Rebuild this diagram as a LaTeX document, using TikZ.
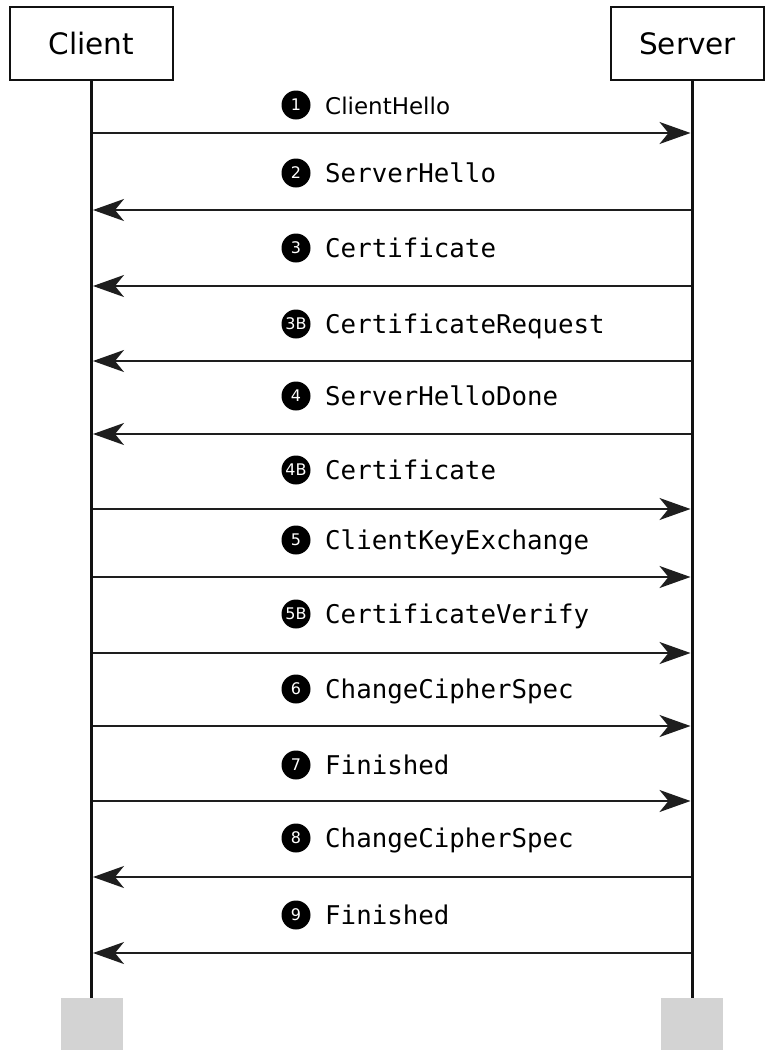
\documentclass[tikz,border=0pt]{standalone}
\usepackage{fontspec}
\setmainfont{DejaVu Sans}
\setsansfont{DejaVu Sans}
\setmonofont{DejaVu Sans Mono}
\usetikzlibrary{arrows.meta,positioning,calc}
\definecolor{ink}{HTML}{111111}
\definecolor{wire}{HTML}{1E1E1E}
\definecolor{stubgray}{HTML}{D3D3D3}
\tikzset{
  party/.style={draw=ink,line width=1.5pt,fill=white,minimum height=73pt,
    inner sep=0pt,font=\fontsize{29.5}{32}\selectfont},
  lifeline/.style={line width=3pt,draw=ink},
  msg/.style={line width=2pt,draw=wire,shorten >=1.5pt,shorten <=1.5pt},
  tosrv/.style={-{Stealth[length=31pt,width=22pt,inset=9pt]}},
  tocli/.style={{Stealth[length=31pt,width=22pt,inset=9pt]}-},
  stepnum/.style={circle,fill=black,text=white,inner sep=0pt,minimum size=29pt,
    font=\fontsize{16}{16}\selectfont},
  msgname/.style={anchor=base west,inner sep=0pt,
    font=\ttfamily\fontsize{25.8}{28}\selectfont},
  stub/.style={fill=stubgray,draw=none,minimum width=62pt,minimum height=52pt}
}
\begin{document}
\begin{tikzpicture}[x=1pt,y=-1pt]
  \useasboundingbox (0,0) rectangle (765,1053);
  \node[party,minimum width=163pt] (client) at (91.5,43.5) {Client};
  \node[party,minimum width=153pt] (server) at (687.5,43.5) {Server};

  % grey stubs at the foot of the lifelines
  \node[stub] (cstub) at (91.5,1024) {};
  \node[stub] (sstub) at (692,1024) {};
  \draw[lifeline] (client.south) -- (cstub.north);
  \draw[lifeline] (sstub.north |- server.south) -- (sstub.north);

  \foreach \i/\y/\ly/\num/\txt/\dir in {
      1/133/105/1/{\sffamily\fontsize{23}{26}\selectfont ClientHello}/tosrv,
      2/210/173/2/ServerHello/tocli,
      3/286/248/3/Certificate/tocli,
      3B/361/324/3B/CertificateRequest/tocli,
      4/434/396/4/ServerHelloDone/tocli,
      4B/509/470/4B/Certificate/tosrv,
      5/577/540/5/ClientKeyExchange/tosrv,
      5B/653/614/5B/CertificateVerify/tosrv,
      6/726/689/6/ChangeCipherSpec/tosrv,
      7/801/765/7/Finished/tosrv,
      8/877/838/8/ChangeCipherSpec/tocli,
      9/953/915/9/Finished/tocli} {
    \coordinate (c\i) at (91.5,\y);
    \coordinate (s\i) at (692,\y);
    \draw[msg,\dir] (c\i) -- (s\i);
    \node[stepnum] (n\i) at (296,\ly) {\num};
    \node[msgname] (m\i) at (325,\ly+9) {\txt};
  }
\end{tikzpicture}
\end{document}
